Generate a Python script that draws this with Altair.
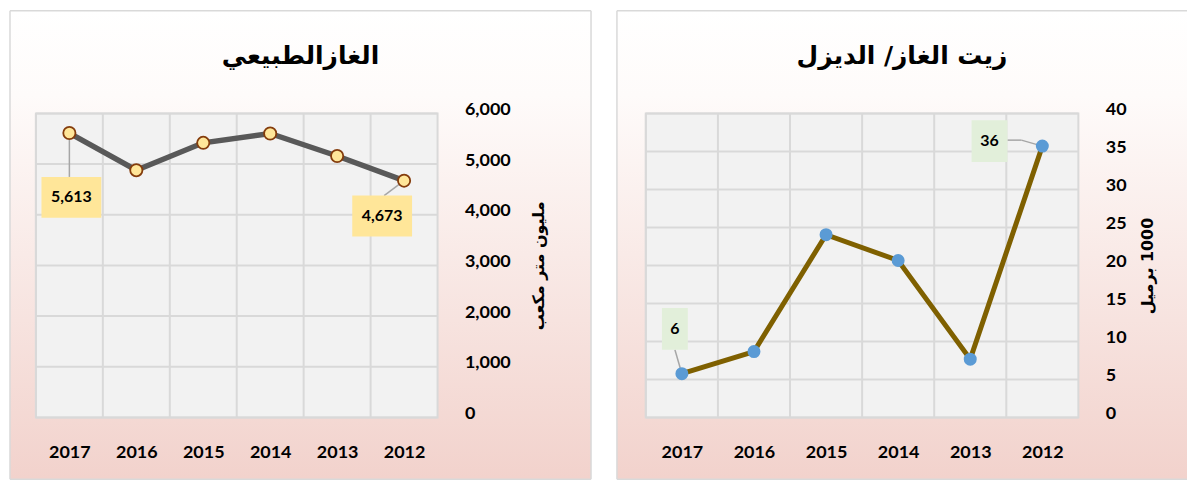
import altair as alt
import pandas as pd

# ---- data ----
years = ["2017", "2016", "2015", "2014", "2013", "2012"]
gas_values = [5613, 4880, 5420, 5605, 5160, 4673]
diesel_values = [5.75, 8.67, 24.05, 20.65, 7.67, 35.7]
gas_ticks = [0, 1000, 2000, 3000, 4000, 5000, 6000]
diesel_ticks = [0, 5, 10, 15, 20, 25, 30, 35, 40]

gas_title = "الغازالطبيعي"
gas_axis_title = "مليون متر مكعب"
diesel_title = "زيت  الغاز/ الديزل"
diesel_axis_title = "\u200f1000 برميل"

NUM_FONT = "Lato"
AR_FONT = "DejaVu Sans"
GRID = "#d9d9d9"


def gradient():
    return alt.Gradient(
        gradient="linear", x1=0, y1=0, x2=0, y2=1,
        stops=[alt.GradientStop(offset=0, color="#ffffff"),
               alt.GradientStop(offset=0.18, color="#fefbfa"),
               alt.GradientStop(offset=1, color="#f2d2cc")])


def panel(values, ticks, dmax, fmt, title, ytitle, W, H, rect, ytitle_x,
          line_color, line_w, pt_fill, pt_stroke, pt_stroke_w, pt_size,
          box_color, labels, right_border):
    df = pd.DataFrame({"year": years, "value": values})
    tdf = pd.DataFrame({"value": ticks})
    step = W / len(years)
    xscale = alt.Scale(type="point", domain=years, padding=0.5)
    yscale = alt.Scale(domain=[0, dmax], nice=False, zero=True)
    xaxis = alt.Axis(orient="bottom", title=None, labelAngle=0, ticks=False,
                     domain=False, grid=False, labelPadding=26, zindex=1,
                     labelFont=NUM_FONT, labelFontSize=18, labelFontWeight="bold",
                     labelColor="#000000")
    yaxis = alt.Axis(orient="right", values=ticks, format=",.0f", ticks=False,
                     domain=False, grid=False, labelPadding=27, labelOffset=-4, zindex=1,
                     labelFont=NUM_FONT, labelFontSize=18, labelFontWeight="bold",
                     labelColor="#000000", title=ytitle, titleFont=AR_FONT,
                     titleFontSize=16, titleFontWeight="bold", titleColor="#000000",
                     titleAngle=-90, titleX=ytitle_x, titleY=H / 2,
                     titleAlign="center", titleBaseline="middle")
    X = alt.X("year:N", scale=xscale, axis=xaxis)
    Y = alt.Y("value:Q", scale=yscale, axis=yaxis)

    rx1, rx2, ry1, ry2 = rect
    one = alt.Data(values=[{"k": 1}])
    bg = alt.Chart(one).mark_rect(color=gradient(), strokeWidth=0).encode(
        x=alt.value(rx1), x2=alt.value(rx2), y=alt.value(ry1), y2=alt.value(ry2))
    borders = [
        alt.Chart(one).mark_rule(color=GRID, strokeWidth=1.5).encode(
            x=alt.value(rx1), x2=alt.value(rx2), y=alt.value(ry1)),
        alt.Chart(one).mark_rule(color=GRID, strokeWidth=1.5).encode(
            x=alt.value(rx1), x2=alt.value(rx2), y=alt.value(ry2)),
        alt.Chart(one).mark_rule(color=GRID, strokeWidth=1.5).encode(
            x=alt.value(rx1), y=alt.value(ry1), y2=alt.value(ry2)),
    ]
    if right_border:
        borders.append(alt.Chart(one).mark_rule(color=GRID, strokeWidth=1.5).encode(
            x=alt.value(rx2), y=alt.value(ry1), y2=alt.value(ry2)))

    plotbg = alt.Chart(one).mark_rect(color="#f2f2f2", stroke=GRID, strokeWidth=2).encode(
        x=alt.value(0), x2=alt.value(W), y=alt.value(0), y2=alt.value(H))
    hgrid = alt.Chart(tdf).mark_rule(color=GRID, strokeWidth=2).encode(
        y=Y, x=alt.value(0), x2=alt.value(W))
    vgrid = alt.Chart(df).mark_rule(color=GRID, strokeWidth=2, xOffset=-step / 2).encode(
        x=X, y=alt.value(0), y2=alt.value(H))

    line = alt.Chart(df).mark_line(color=line_color, strokeWidth=line_w).encode(x=X, y=Y)
    pts = alt.Chart(df).mark_circle(size=pt_size, color=pt_fill, opacity=1,
                                    stroke=pt_stroke, strokeWidth=pt_stroke_w).encode(
        x=X, y=Y)

    leaders, boxes, texts = [], [], []
    for lab in labels:
        sub = alt.Chart(df).transform_filter(alt.datum.year == lab["year"])
        for seg in lab["leader"]:
            leaders.append(sub.mark_rule(color="#a6a6a6", strokeWidth=1.5,
                                         xOffset=seg[0], yOffset=seg[1],
                                         x2Offset=seg[2], y2Offset=seg[3]).encode(
                x=X, x2="year:N", y=Y, y2="value:Q"))
        bx = lab["box"]
        boxes.append(sub.mark_rect(color=box_color, xOffset=bx[0], yOffset=bx[1],
                                   x2Offset=bx[2], y2Offset=bx[3]).encode(
            x=X, x2="year:N", y=Y, y2="value:Q"))
        texts.append(sub.mark_text(font=NUM_FONT, fontSize=16, fontWeight="bold",
                                   color="#000000", baseline="middle", align="center",
                                   dx=(bx[0] + bx[2]) / 2, dy=(bx[1] + bx[3]) / 2).encode(
            x=X, y=Y, text=alt.Text("value:Q", format=fmt)))

    layers = [bg, *borders, plotbg, hgrid, vgrid, *leaders, line, pts, *boxes, *texts]
    return alt.layer(*layers).properties(
        width=W, height=H,
        title=alt.TitleParams(title, font=AR_FONT, fontSize=25, fontWeight="bold",
                              color="#000000", anchor="middle", frame="bounds",
                              offset=-59))


left = panel(gas_values, gas_ticks, 6000, ",", gas_title, gas_axis_title,
             403, 305, (-26, 557, -103, 367), 101,
             "#595959", 5.5, "#ffe699", "#843c0c", 1.8, 150, "#ffe699",
             [{"year": "2017", "box": (-28, 44, 32, 85), "leader": [(0, 7, 0, 44)]},
              {"year": "2012", "box": (-52, 15, 8, 56), "leader": [(-20, 15, 0, 0)]}],
             True)

right = panel(diesel_values, diesel_ticks, 40, ".0f", diesel_title, diesel_axis_title,
              434, 305, (-29, 543, -103, 367), 69,
              "#7f6000", 5, "#5b9bd5", "#5b9bd5", 0, 170, "#e2efda",
              [{"year": "2017", "box": (-20, -66, 6, -24), "leader": [(-7, -24, 0, 0)]},
               {"year": "2012", "box": (-71, -26, -35, 16),
                "leader": [(-35, -6, -21, -6), (-21, -6, 0, 0)]}],
              False)

chart = alt.hconcat(left, right, spacing=22).properties(padding=0).configure_view(
    stroke=None, fill=None).configure(background="#ffffff")

chart.save("out.html", embed_options={"renderer": "svg", "actions": False})
